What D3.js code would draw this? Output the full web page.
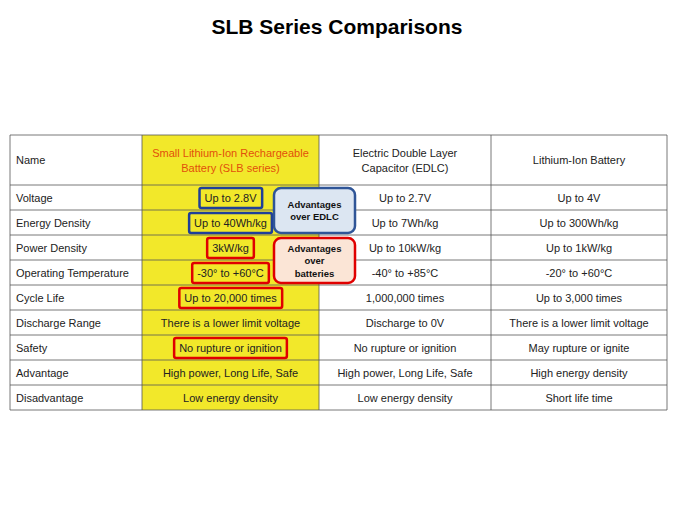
<!DOCTYPE html><html><head><meta charset="utf-8"><script src="https://cdn.jsdelivr.net/npm/d3@7"></script>
<style>body{margin:0;background:#fff}</style></head><body><svg id="c" width="675" height="506"></svg>
<script>
const columns=["Name","Small Lithium-Ion Rechargeable|Battery (SLB series)","Electric Double Layer|Capacitor (EDLC)","Lithium-Ion Battery"];
const rowNames=["Voltage","Energy Density","Power Density","Operating Temperature","Cycle Life","Discharge Range","Safety","Advantage","Disadvantage"];
const slb=["Up to 2.8V","Up to 40Wh/kg","3kW/kg","-30° to +60°C","Up to 20,000 times","There is a lower limit voltage","No rupture or ignition","High power, Long Life, Safe","Low energy density"];
const edlc=["Up to 2.7V","Up to 7Wh/kg","Up to 10kW/kg","-40° to +85°C","1,000,000 times","Discharge to 0V","No rupture or ignition","High power, Long Life, Safe","Low energy density"];
const liion=["Up to 4V","Up to 300Wh/kg","Up to 1kW/kg","-20° to +60°C","Up to 3,000 times","There is a lower limit voltage","May rupture or ignite","High energy density","Short life time"];
const highlights=[{row:0,c:"blue"},{row:1,c:"blue"},{row:2,c:"red"},{row:3,c:"red"},{row:4,c:"red"},{row:6,c:"red"}];
const callouts=[{text:["Advantages","over EDLC"],r0:0,r1:2,fill:"#dce6f2",stroke:"#2f5597"},{text:["Advantages","over","batteries"],r0:2,r1:4,fill:"#fbe5d6",stroke:"#e00000"}];

const svg=d3.select("#c");
const F="Liberation Sans, Arial, sans-serif";
svg.append("text").attr("x",337).attr("y",34).attr("text-anchor","middle").attr("font-family",F).attr("font-weight","bold").attr("font-size",21).text("SLB Series Comparisons");
const colEdges=[10,142,319,491,667];
const w=i=>colEdges[i+1]-colEdges[i];
const y=d3.scaleBand().domain(d3.range(rowNames.length)).range([185,410]);
const tableTop=135;
svg.append("rect").attr("x",142).attr("y",tableTop).attr("width",177).attr("height",410-tableTop).attr("fill","#f2e82a");
const hdr=svg.append("g");
columns.forEach((c,i)=>{
  const lines=c.split("|");
  const t=hdr.append("text").attr("font-family",F).attr("font-size",11).attr("fill",i==1?"#e2500a":"#222")
   .attr("text-anchor",i==0?"start":"middle");
  lines.forEach((l,k)=>t.append("tspan").attr("x",i==0?colEdges[0]+6:colEdges[i]+w(i)/2).attr("y",160+4+(k-(lines.length-1)/2)*15).text(l));
});
const data=rowNames.map((n,i)=>[n,slb[i],edlc[i],liion[i]]);
const g=svg.append("g");
const slbNodes=[];
data.forEach((r,ri)=>r.forEach((v,ci)=>{
  const t=g.append("text").attr("x",ci==0?colEdges[0]+6:colEdges[ci]+w(ci)/2).attr("y",y(ri)+y.bandwidth()/2+4)
   .attr("text-anchor",ci==0?"start":"middle").attr("font-family",F).attr("font-size",11).attr("fill","#222").text(v);
  if(ci==1) slbNodes[ri]=t.node();
}));
const lg=svg.append("g").attr("stroke","#555").attr("stroke-width",0.8);
[tableTop,...y.domain().map(d=>y(d)),410].forEach(v=>lg.append("line").attr("x1",10).attr("x2",667).attr("y1",v).attr("y2",v));
colEdges.forEach(v=>lg.append("line").attr("x1",v).attr("x2",v).attr("y1",tableTop).attr("y2",410));
highlights.forEach(h=>{
  const b=slbNodes[h.row].getBBox();
  svg.append("rect").attr("x",b.x-5).attr("y",y(h.row)+3).attr("width",b.width+10).attr("height",y.bandwidth()-5).attr("rx",2)
   .attr("fill","none").attr("stroke",h.c=="blue"?"#1f3f99":"#e00000").attr("stroke-width",2.5);
});
callouts.forEach(c=>{
  const y0=y(c.r0)+3,y1=y(c.r1-1)+y.bandwidth()-2;
  svg.append("rect").attr("x",274).attr("y",y0).attr("width",81).attr("height",y1-y0).attr("rx",7).attr("fill",c.fill).attr("stroke",c.stroke).attr("stroke-width",2.5);
  const t=svg.append("text").attr("text-anchor","middle").attr("font-family",F).attr("font-weight","bold").attr("font-size",9.5).attr("fill","#111");
  c.text.forEach((l,k)=>t.append("tspan").attr("x",314.5).attr("y",(y0+y1)/2+3.5+(k-(c.text.length-1)/2)*12.5).text(l));
});
</script></body></html>
